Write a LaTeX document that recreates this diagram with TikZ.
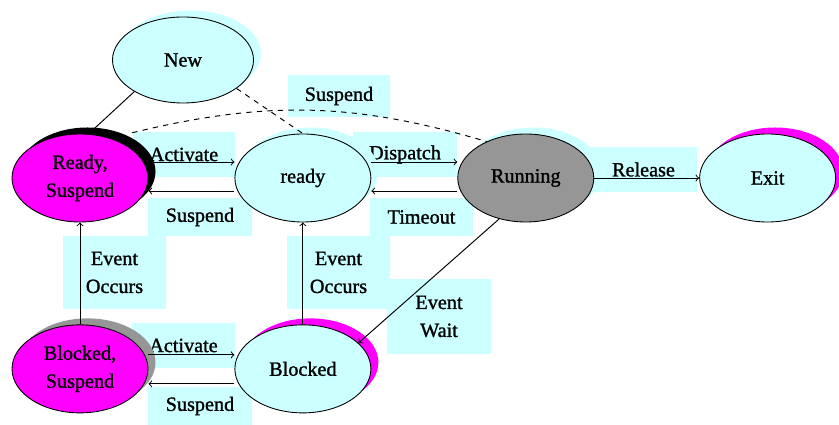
\documentclass[tikz,border=0pt]{standalone}
\usepackage{fontspec}
\setmainfont{Liberation Serif}[FakeBold=1.2]
\usetikzlibrary{arrows,positioning,calc,shadows,shapes.geometric}
\definecolor{lcyan}{HTML}{CCFFFF}
\definecolor{pmag}{HTML}{FF00FF}
\definecolor{rgrey}{HTML}{969696}

\begin{document}
\begin{tikzpicture}[>=to, line width=0.55pt,
font=\fontsize{11.5}{15.9}\selectfont,
statenode/.style={ellipse, draw=black, line width=0.5pt, fill=lcyan, minimum width=2.72cm, minimum height=1.76cm, align=center, inner sep=0pt},
shadowcol/.style={general shadow={fill=#1, shadow xshift=0.15cm, shadow yshift=0.13cm}},
labelbox/.style={rectangle, fill=lcyan, inner sep=0pt, align=center},
]
\useasboundingbox (0,0) rectangle (16.78,-8.5);

% label boxes
\node[labelbox, minimum width=2.04cm, minimum height=0.84cm] (lsusptop) at (6.78,-1.92) {Suspend};
\node[labelbox, minimum width=2.04cm, minimum height=0.90cm] (lacttop) at (3.68,-3.09) {Activate};
\node[labelbox, minimum width=2.08cm, minimum height=0.76cm] (lsuspmid) at (4.00,-4.34) {Suspend};
\node[labelbox, minimum width=2.08cm, minimum height=0.90cm] (ldisp) at (8.10,-3.09) {Dispatch};
\node[labelbox, minimum width=2.06cm, minimum height=0.76cm] (ltime) at (8.43,-4.34) {Timeout};
\node[labelbox, minimum width=2.14cm, minimum height=0.90cm] (lrel) at (12.87,-3.39) {Release};
\node[labelbox, minimum width=2.06cm, minimum height=1.46cm] (leventl) at (2.29,-5.45) {Event\\Occurs};
\node[labelbox, minimum width=2.06cm, minimum height=1.46cm] (leventm) at (6.77,-5.45) {Event\\Occurs};
\node[labelbox, minimum width=2.08cm, minimum height=1.50cm] (lwait) at (8.78,-6.33) {Event\\Wait};
\node[labelbox, minimum width=2.06cm, minimum height=0.90cm] (lactbot) at (3.67,-6.91) {Activate};
\node[labelbox, minimum width=2.08cm, minimum height=0.76cm] (lsuspbot) at (4.00,-8.12) {Suspend};

% states
\node[statenode, shadowcol=lcyan, minimum width=2.82cm, minimum height=1.72cm] (new) at (3.66,-1.20) {New};
\node[statenode, shadowcol=black, fill=pmag] (rsusp) at (1.60,-3.56) {Ready,\\Suspend};
\node[statenode, shadowcol=lcyan] (ready) [right=1.72cm of rsusp] {ready};
\node[statenode, shadowcol=lcyan, fill=rgrey] (run) [right=1.72cm of ready] {Running};
\node[statenode, shadowcol=pmag] (exit) [right=2.10cm of run] {Exit};
\node[statenode, shadowcol=rgrey, fill=pmag] (bsusp) [below=2.04cm of rsusp] {Blocked,\\Suspend};
\node[statenode, shadowcol=pmag] (blk) [right=1.72cm of bsusp] {Blocked};

\draw[->] ([yshift=0.32cm]rsusp.east) -- ([yshift=0.32cm]ready.west);
\draw[->] ([yshift=-0.26cm]ready.west) -- ([yshift=-0.26cm]rsusp.east);
\draw[->] ([yshift=0.32cm]ready.east) -- ([yshift=0.32cm]run.west);
\draw[->] ([yshift=-0.26cm]run.west) -- ([yshift=-0.26cm]ready.east);
\draw[->] (run.east) -- (exit.west);
\draw[->] (bsusp.north) -- (rsusp.south);
\draw[->] (blk.north) -- (ready.south);
\draw[->] (run.237) -- (blk.25);
\draw[->] ([yshift=0.28cm]bsusp.east) -- ([yshift=0.28cm]blk.west);
\draw[->] ([yshift=-0.30cm]blk.west) -- ([yshift=-0.30cm]bsusp.east);
% plain lines
\draw (new.213) -- (rsusp.79);
\draw[dashed] (new.332) -- (ready.north);
\draw[dashed] ([xshift=0.3cm,yshift=0.16cm]rsusp.45) to[bend left=15] (run.137);

\end{tikzpicture}
\end{document}
